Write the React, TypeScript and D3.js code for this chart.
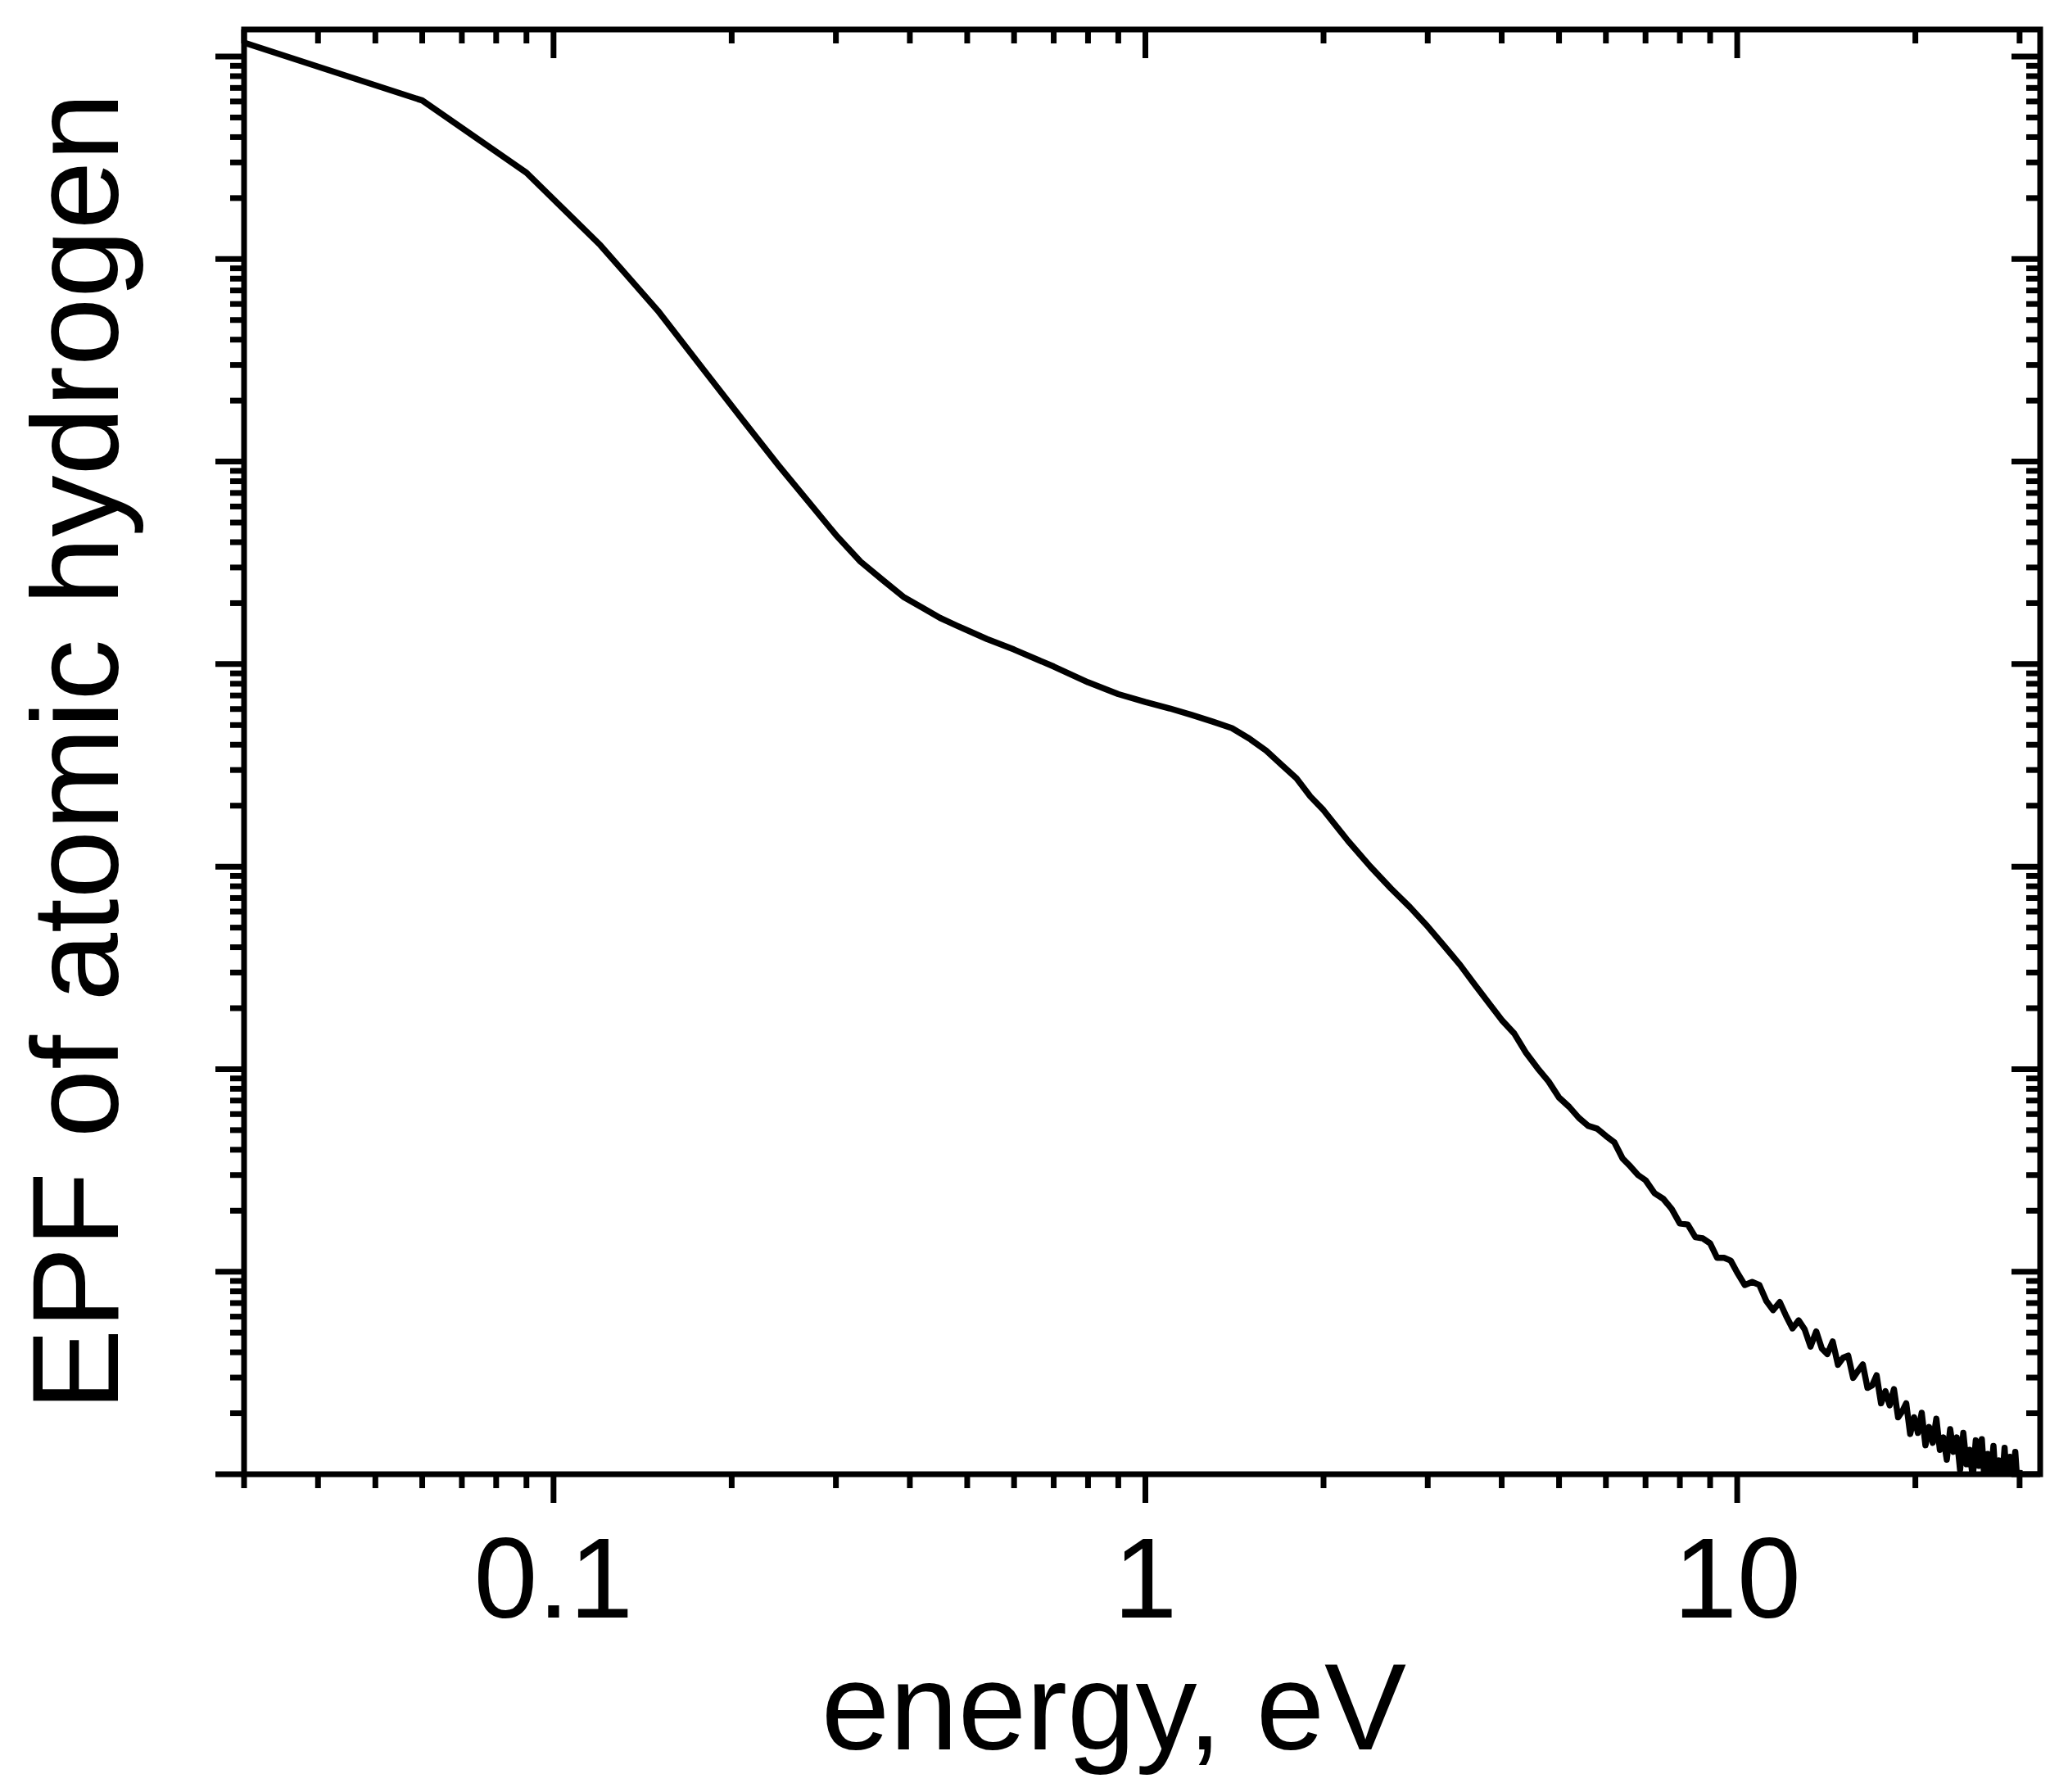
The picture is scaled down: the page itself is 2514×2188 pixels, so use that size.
import React, { useEffect, useRef } from 'react';
import * as d3 from 'd3';

// energy grid (eV) and EPF values
const energy = [
    0.03, 0.06, 0.09, 0.12, 0.15, 0.18, 0.21, 0.24, 0.27, 0.30, 0.33, 0.36, 0.39, 0.42, 0.45, 0.48,
    0.54, 0.6, 0.7, 0.8, 0.9, 1.0, 1.1, 1.2, 1.3, 1.4, 1.5, 1.6, 1.7, 1.8, 1.9, 2.0, 2.2, 2.4, 2.6,
    2.8, 3.0, 3.2, 3.4, 3.6, 3.8, 4.0,
    4.2, 4.4, 4.6, 4.8, 5.0, 5.2, 5.4, 5.6, 5.8, 6.0, 6.2, 6.4, 6.6, 6.8, 7.0, 7.25, 7.5, 7.75,
    8.0, 8.25, 8.5, 8.75, 9.0, 9.25, 9.5, 9.75, 10.0, 10.3, 10.6, 10.9, 11.2, 11.5, 11.8, 12.1,
    12.4, 12.7, 13.0, 13.3, 13.6, 13.9, 14.2, 14.5, 14.8, 15.1, 15.4, 15.7, 16.0, 16.3, 16.6,
    16.9, 17.2, 17.5, 17.8, 18.1, 18.4, 18.7, 19.0, 19.3, 19.6, 19.9, 20.2, 20.5, 20.8, 21.1,
    21.4, 21.7, 22.0, 22.3, 22.6, 22.9, 23.2, 23.5, 23.8, 24.1, 24.4, 24.7, 25.0, 25.3, 25.6,
    25.9, 26.2, 26.5, 26.8, 27.1, 27.4, 27.7, 28.0, 28.3, 28.6, 28.9, 29.2, 29.5, 29.8, 30.0,
];

const epf = [
    1.17, 0.607, 0.267, 0.117, 0.0557, 0.028, 0.0157, 0.00957, 0.0063, 0.00434, 0.00321, 0.0026,
    0.00215, 0.0019, 0.00169, 0.00155, 0.00133, 0.00118, 0.000973, 0.000813, 0.000711, 0.00065,
    0.000604, 0.00056, 0.00052, 0.000483, 0.000428, 0.000374, 0.000318, 0.000273, 0.000222,
    0.00019, 0.000134, 0.0001, 7.8e-5, 6.3e-5, 5.06e-5, 4.05e-5, 3.28e-5, 2.62e-5, 2.13e-5, 1.75e-5,
    1.5e-5, 1.2e-5, 1.01e-5, 8.7e-6, 7.24e-6, 6.52e-6, 5.75e-6, 5.25e-6, 5.08e-6, 4.68e-6,
    4.35e-6, 3.63e-6, 3.31e-6, 3.0e-6, 2.83e-6, 2.44e-6, 2.29e-6, 2.04e-6,
    1.73e-6, 1.71e-6, 1.48e-6, 1.46e-6, 1.38e-6, 1.17e-6, 1.17e-6, 1.135e-6, 9.9e-7, 8.6e-7,
    8.9e-7, 8.6e-7, 7.16e-7, 6.46e-7, 7.08e-7, 6.03e-7,
    5.25e-7, 5.75e-7, 5.19e-7, 4.27e-7, 5.07e-7, 4.17e-7, 3.92e-7, 4.52e-7, 3.47e-7, 3.76e-7,
    3.85e-7, 2.99e-7, 3.24e-7, 3.48e-7, 2.67e-7,
    2.74e-7, 3.08e-7, 2.24e-7, 2.57e-7, 2.19e-7, 2.63e-7, 1.91e-7, 2.04e-7, 2.24e-7, 1.58e-7,
    1.91e-7, 1.6e-7, 2.01e-7, 1.39e-7, 1.71e-7,
    1.43e-7, 1.88e-7, 1.32e-7, 1.52e-7, 1.18e-7, 1.67e-7, 1.29e-7, 1.52e-7, 1.05e-7, 1.6e-7,
    1.12e-7, 1.32e-7, 9.6e-8, 1.47e-7, 1.1e-7,
    1.49e-7, 8.85e-8, 1.26e-7, 9.4e-8, 1.38e-7, 8.4e-8, 1.17e-7, 8.75e-8, 1.35e-7, 7.9e-8,
    1.22e-7, 9.2e-8, 1.29e-7, 8.3e-8, 1.05e-7,
];

const xDomain = [0.03, 32.5];
const yDomain = [1e-7, 1.36];
const xTickLabels = [
    { value: 0.1, label: '0.1' },
    { value: 1, label: '1' },
    { value: 10, label: '10' },
];

const xTitle = 'energy, eV';
const yTitle = 'EPF of atomic hydrogen';

const W = 2514;
const H = 2188;
const FONT = '"Liberation Sans", Arial, Helvetica, sans-serif';

export default function App() {
    const svgRef = useRef<SVGSVGElement>(null);

    useEffect(() => {
        if (!svgRef.current) return;
        const svg = d3.select(svgRef.current);
        svg.selectAll('*').remove();

        const margin = { top: 36, right: 23, bottom: 388, left: 298 };
        const width = W - margin.left - margin.right;
        const height = H - margin.top - margin.bottom;

        const x = d3.scaleLog().domain(xDomain).range([margin.left, margin.left + width]);
        const y = d3.scaleLog().domain(yDomain).range([margin.top + height, margin.top]);

        const x0 = margin.left, x1 = margin.left + width;
        const y0 = margin.top + height, y1 = margin.top;

        const majorLen = 35;
        const minorLen = 17;
        const sw = 7;

        const isMajor = (v: number) => Math.abs(Math.log10(v) - Math.round(Math.log10(v))) < 1e-6;

        // clip for the curve
        svg.append('defs').append('clipPath').attr('id', 'plot-clip')
            .append('rect')
            .attr('x', x0).attr('y', y1)
            .attr('width', width).attr('height', height);

        const pts = energy.map((e, i) => ({ e, v: epf[i] }));

        const line = d3.line<{ e: number; v: number }>()
            .x(d => x(d.e))
            .y(d => y(d.v))
            .curve(d3.curveLinear);

        svg.append('path')
            .datum(pts)
            .attr('clip-path', 'url(#plot-clip)')
            .attr('fill', 'none')
            .attr('stroke', '#000')
            .attr('stroke-width', 7.5)
            .attr('stroke-linejoin', 'round')
            .attr('d', line);

        const ticks = svg.append('g').attr('stroke', '#000').attr('stroke-width', sw);

        // x ticks: bottom outward, top inward
        x.ticks().forEach(t => {
            if (t < xDomain[0] - 1e-9 || t > xDomain[1]) return;
            const len = isMajor(t) ? majorLen : minorLen;
            const px = x(t);
            ticks.append('line').attr('x1', px).attr('x2', px).attr('y1', y0).attr('y2', y0 + len);
            ticks.append('line').attr('x1', px).attr('x2', px).attr('y1', y1).attr('y2', y1 + len);
        });

        // y ticks: left outward, right inward
        y.ticks().forEach(t => {
            if (t < yDomain[0] * 0.999 || t > yDomain[1]) return;
            const len = isMajor(t) ? majorLen : minorLen;
            const py = y(t);
            ticks.append('line').attr('x1', x0 - len).attr('x2', x0).attr('y1', py).attr('y2', py);
            ticks.append('line').attr('x1', x1 - len).attr('x2', x1).attr('y1', py).attr('y2', py);
        });

        // frame
        svg.append('rect')
            .attr('x', x0).attr('y', y1)
            .attr('width', width).attr('height', height)
            .attr('fill', 'none')
            .attr('stroke', '#000')
            .attr('stroke-width', sw)
            .attr('stroke-linejoin', 'miter');

        // tick labels
        svg.append('g')
            .selectAll('text')
            .data(xTickLabels)
            .join('text')
            .attr('x', d => x(d.value))
            .attr('y', 1975)
            .attr('text-anchor', 'middle')
            .attr('font-family', FONT)
            .attr('font-size', 140)
            .attr('fill', '#000')
            .text(d => d.label);

        // axis titles
        svg.append('text')
            .attr('x', 1360)
            .attr('y', 2136)
            .attr('text-anchor', 'middle')
            .attr('font-family', FONT)
            .attr('font-size', 150)
            .attr('fill', '#000')
            .text(xTitle);

        svg.append('text')
            .attr('transform', `translate(144, ${(y0 + y1) / 2}) rotate(-90)`)
            .attr('text-anchor', 'middle')
            .attr('font-family', FONT)
            .attr('font-size', 150)
            .attr('fill', '#000')
            .text(yTitle);
    }, []);

    return (
        <svg
            ref={svgRef}
            width={W}
            height={H}
            style={{ position: 'absolute', left: 0, top: 0, background: '#fff' }}
        />
    );
}
